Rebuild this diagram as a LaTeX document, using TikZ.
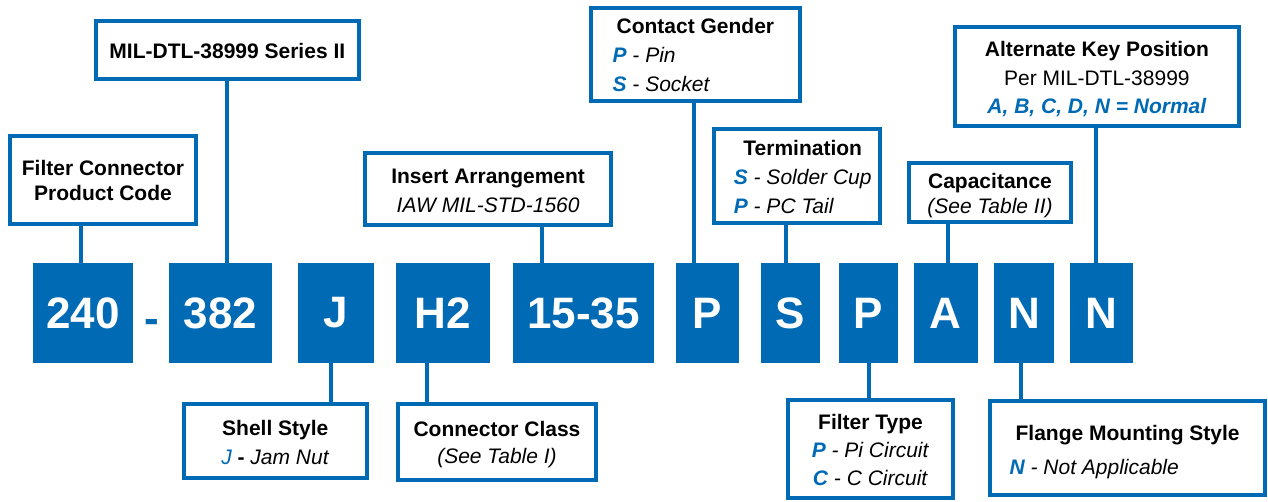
\documentclass[tikz,border=0pt]{standalone}
\usepackage{fontspec}
\setmainfont{Liberation Sans}
\definecolor{blu}{RGB}{0,106,180}
\newcommand{\codeit}[1]{\textcolor{blu}{\bfseries\itshape #1}}
\newcommand{\mybc}[2]{\fontsize{21}{#1}\selectfont\raisebox{0pt}[\dimexpr\height+6pt\relax]{\begin{tabular}{@{}c@{}}#2\end{tabular}}}
\newcommand{\mybl}[2]{\fontsize{21}{#1}\selectfont\raisebox{0pt}[\dimexpr\height+6pt\relax]{\begin{tabular}{@{}l@{}}#2\end{tabular}}}
\tikzset{
  codebox/.style={fill=blu, text=white, inner sep=0pt, minimum height=100pt,
    font=\fontsize{44}{44}\selectfont\bfseries},
  infobox/.style={draw=blu, line width=4pt, fill=white, inner sep=0pt},
  link/.style={draw=blu, line width=4pt},
  dashtext/.style={text=blu, inner sep=0pt, font=\fontsize{44}{44}\selectfont\bfseries}
}
\begin{document}
\begin{tikzpicture}[x=1pt,y=-1pt]
\useasboundingbox[fill=white] (0,0) rectangle (1268,501);

% code boxes
\node[codebox, minimum width=100pt]   (c1)  at (83,313)     {240};
\node[dashtext, anchor=base]          (dash) at (152,333) {-};
\node[codebox, minimum width=103pt]   (c2)  at (220.5,313)  {382};
\node[codebox, minimum width=76pt]    (c3)  at (336,313)    {J};
\node[codebox, minimum width=94.5pt]  (c4)  at (442.75,313) {H2};
\node[codebox, minimum width=141pt]   (c5)  at (583.5,313)  {15-35};
\node[codebox, minimum width=63pt]    (c6)  at (707.5,313)  {P};
\node[codebox, minimum width=59.5pt]  (c7)  at (790.25,313) {S};
\node[codebox, minimum width=59pt]    (c8)  at (868.5,313)  {P};
\node[codebox, minimum width=63.6pt]  (c9)  at (945.8,313)  {A};
\node[codebox, minimum width=60pt]    (c10) at (1024,313)   {N};
\node[codebox, minimum width=62.6pt]  (c11) at (1101.3,313) {N};

% upper boxes
\node[infobox, minimum width=186pt, minimum height=88pt] (fcpc) at (103,180)
  {\mybc{25}{\textbf{Filter Connector}\\\textbf{Product Code}}};
\node[infobox, minimum width=262.7pt, minimum height=58pt] (mil) at (227.35,50)
  {\mybc{29}{\textbf{MIL-DTL-38999 Series II}}};
\node[infobox, minimum width=245.7pt, minimum height=72.6pt] (ia) at (488.15,189)
  {\mybc{29}{\textbf{Insert Arrangement}\\\textit{IAW MIL-STD-1560}}};
\node[infobox, minimum width=208.7pt, minimum height=92pt] (cg) at (695.35,54)
  {\mybl{29}{\multicolumn{1}{@{}c@{}}{\textbf{Contact Gender}}\\\hspace*{-4pt}\codeit{P} \textit{- Pin}\\\hspace*{-4pt}\codeit{S} \textit{- Socket}}};
\node[infobox, minimum width=166pt, minimum height=94pt] (term) at (796.7,176)
  {\hspace*{12pt}\mybl{29}{\multicolumn{1}{@{}c@{}}{\textbf{Termination}}\\\codeit{S} \textit{- Solder Cup}\\\codeit{P} \textit{- PC Tail}}};
\node[infobox, minimum width=162.6pt, minimum height=59pt] (cap) at (990,192.5)
  {\mybc{25}{\textbf{Capacitance}\\\textit{(See Table II)}}};
\node[infobox, minimum width=284.3pt, minimum height=98.7pt] (akp) at (1096.85,76.35)
  {\mybc{28.5}{\textbf{Alternate Key Position}\\Per MIL-DTL-38999\\\codeit{A, B, C, D, N = Normal}}};

% lower boxes
\node[infobox, minimum width=182.6pt, minimum height=74pt] (ss) at (275.3,441)
  {\mybc{29}{\textbf{Shell Style}\\\textcolor{blu}{\itshape J} \textbf{-} \textit{Jam Nut}}};
\node[infobox, minimum width=198pt, minimum height=76pt] (cc) at (497,442)
  {\mybc{27}{\textbf{Connector Class}\\\textit{(See Table I)}}};
\node[infobox, minimum width=165pt, minimum height=98pt] (ft) at (870.5,449)
  {\mybc{28}{\textbf{Filter Type}\\\codeit{P} \textit{- Pi Circuit}\\\codeit{C} \textit{- C Circuit}}};
\node[infobox, minimum width=274.4pt, minimum height=94pt] (fm) at (1127.6,448)
  {\mybl{34}{\multicolumn{1}{@{}c@{}}{\textbf{Flange Mounting Style}}\\\hspace*{-6pt}\codeit{N} \textit{- Not Applicable}}};

% connectors
\draw[link] ([xshift=-2.3pt]c1.north) -- ([xshift=-2.3pt]c1.north |- fcpc.south);
\draw[link] ([xshift=6.1pt]c2.north) -- ([xshift=6.1pt]c2.north |- mil.south);
\draw[link] ([xshift=-41.5pt]c5.north) -- ([xshift=-41.5pt]c5.north |- ia.south);
\draw[link] ([xshift=-14pt]c6.north) -- ([xshift=-14pt]c6.north |- cg.south);
\draw[link] ([xshift=-4.25pt]c7.north) -- ([xshift=-4.25pt]c7.north |- term.south);
\draw[link] ([xshift=1.9pt]c9.north) -- ([xshift=1.9pt]c9.north |- cap.south);
\draw[link] ([xshift=-5.3pt]c11.north) -- ([xshift=-5.3pt]c11.north |- akp.south);
\draw[link] ([xshift=-5.4pt]c3.south) -- ([xshift=-5.4pt]c3.south |- ss.north);
\draw[link] ([xshift=-15.75pt]c4.south) -- ([xshift=-15.75pt]c4.south |- cc.north);
\draw[link] ([xshift=0.5pt]c8.south) -- ([xshift=0.5pt]c8.south |- ft.north);
\draw[link] ([xshift=-3pt]c10.south) -- ([xshift=-3pt]c10.south |- fm.north);
\end{tikzpicture}
\end{document}
